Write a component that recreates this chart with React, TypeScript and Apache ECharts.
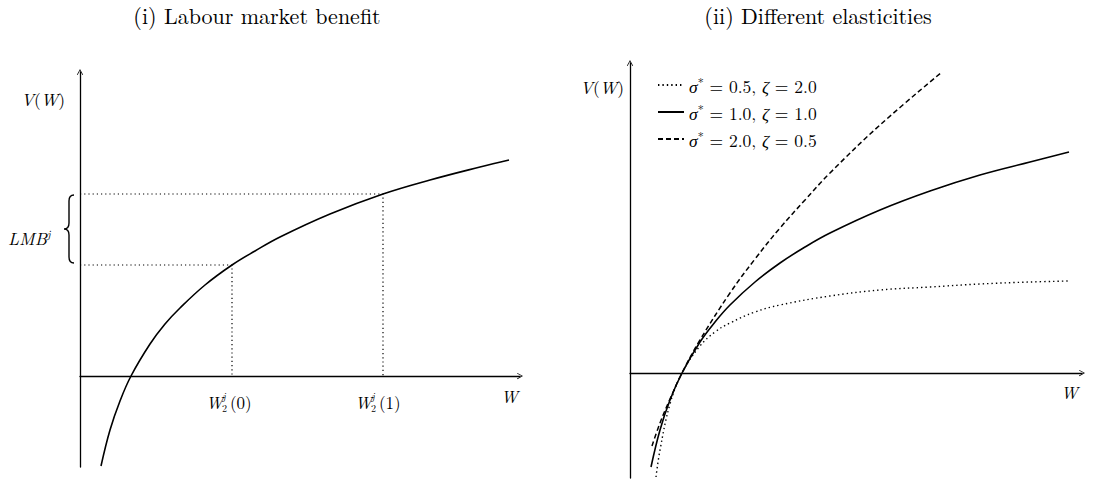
import React, { useEffect, useRef } from "react";
import * as echarts from "echarts";

// ---------- data ----------
const panelTitles = ["(i) Labour market benefit", "(ii) Different elasticities"];

// Panel (i): value function V(W)
const benefitW = [0.21, 0.3, 0.4, 0.51, 0.7, 0.85, 1.0, 1.25, 1.52, 1.75, 2.0, 2.5, 3.03, 3.5, 4.0, 4.29];
const benefitV = [-0.9, -0.54, -0.25, 0, 0.32, 0.52, 0.68, 0.91, 1.11, 1.25, 1.39, 1.62, 1.82, 1.96, 2.09, 2.16];
// W_2^j(0), W_2^j(1) and their values
const wageArgs = ["0", "1"];
const wageLevels = [1.52, 3.03];
const wageValues = [1.11, 1.82];

// Panel (ii): different elasticities
const legendLabels = ["σ* = 0.5, ζ = 2.0", "σ* = 1.0, ζ = 1.0", "σ* = 2.0, ζ = 0.5"];
const sigmaVals = ["0.5", "1.0", "2.0"];
const zetaVals = ["2.0", "1.0", "0.5"];
const lowSigmaW = [0.26, 0.3, 0.4, 0.52, 0.7, 0.85, 1.0, 1.25, 1.5, 2.0, 2.5, 3.0, 3.5, 4.0, 4.39];
const lowSigmaV = [-1.04, -0.77, -0.31, 0, 0.27, 0.41, 0.5, 0.61, 0.68, 0.77, 0.83, 0.86, 0.89, 0.91, 0.92];
const unitSigmaW = [0.21, 0.3, 0.4, 0.52, 0.7, 0.85, 1.0, 1.25, 1.5, 1.75, 2.0, 2.5, 3.0, 3.5, 4.0, 4.39];
const unitSigmaV = [-0.94, -0.57, -0.27, 0, 0.31, 0.51, 0.68, 0.91, 1.1, 1.26, 1.4, 1.63, 1.82, 1.98, 2.11, 2.21];
const highSigmaW = [0.22, 0.3, 0.4, 0.52, 0.7, 1.0, 1.25, 1.5, 1.75, 2.0, 2.5, 3.12];
const highSigmaV = [-0.73, -0.5, -0.26, 0, 0.33, 0.8, 1.14, 1.45, 1.73, 2.0, 2.48, 3.01];

// ---------- style ----------
const SERIF = '"Latin Modern Roman", "Liberation Serif", "DejaVu Serif", serif';
const CHEVRON = "path://M0,9 L5,0 L10,9 L8.9,9.6 L5,2.3 L1.1,9.6 Z";

const zip = (xs: number[], ys: number[]) => xs.map((x, i) => [x, ys[i]]);

function axisPair(grid: number, xmax: number, ymin: number, ymax: number) {
  const line = {
    onZero: true,
    symbol: ["none", CHEVRON],
    symbolSize: [8, 6],
    lineStyle: { color: "#000", width: 1.3 },
  };
  return {
    x: {
      type: "value", gridIndex: grid, min: 0, max: xmax,
      axisLine: line, axisTick: { show: false }, axisLabel: { show: false }, splitLine: { show: false },
    },
    y: {
      type: "value", gridIndex: grid, min: ymin, max: ymax,
      axisLine: line, axisTick: { show: false }, axisLabel: { show: false }, splitLine: { show: false },
    },
  };
}

function txt(x: number, y: number, text: string, size: number, opts: any = {}) {
  return {
    type: "text", x, y, silent: true,
    style: {
      text, fontSize: size, fontFamily: SERIF, fill: "#000",
      align: opts.align || "left", verticalAlign: "middle",
      fontStyle: opts.italic ? "italic" : "normal",
      lineHeight: opts.lineHeight,
      rich: opts.rich,
    },
  };
}

function wLabel(x: number, y: number, arg: string) {
  return {
    type: "group", x, y, silent: true,
    children: [
      txt(0, 0, "W", 17, { italic: true }),
      txt(16.5, -6, "j", 10, { italic: true }),
      txt(16, 6, "2", 10),
      txt(24, 0, `(${arg})`, 17),
    ],
  };
}

const mathRich = {
  i: { fontStyle: "italic", fontFamily: SERIF, fontSize: 17.5 },
  n: { fontFamily: SERIF, fontSize: 17.5 },
  s: { fontFamily: SERIF, fontSize: 12, verticalAlign: "top" },
};

echarts.graphic.registerShape(
  "brace",
  echarts.graphic.extendPath(
    "M10,0 C6,0 5,2 5,6 L5,28 C5,32 3,34 0,34 C3,34 5,36 5,40 L5,62 C5,66 6,68 10,68",
    {}
  )
);

export default function App() {
  const ref = useRef<HTMLDivElement>(null);
  useEffect(() => {
    document.body.style.margin = "0";
    if (!ref.current) return;
    const chart = echarts.init(ref.current, undefined, { renderer: "svg" });
    const a0 = axisPair(0, 4.4, -0.91, 3.04);
    const a1 = axisPair(1, 4.52, -1.05, 3.1);

    const guideSeries = wageLevels.map((w, i) => ({
      type: "line", name: `guide${i}`, xAxisIndex: 0, yAxisIndex: 0,
      data: [[0, wageValues[i]], [w, wageValues[i]], [w, 0]],
      symbol: "none", silent: true,
      lineStyle: { color: "#000", width: 1.2, type: [1.2, 3] },
    }));

    const rightDefs = [
      { w: lowSigmaW, v: lowSigmaV, type: [1.4, 3] as any, width: 1.4 },
      { w: unitSigmaW, v: unitSigmaV, type: "solid" as any, width: 1.6 },
      { w: highSigmaW, v: highSigmaV, type: [5, 3] as any, width: 1.5 },
    ];
    const rightSeries = rightDefs.map((d, i) => ({
      type: "line", name: legendLabels[i], xAxisIndex: 1, yAxisIndex: 1,
      data: zip(d.w, d.v), symbol: "none", smooth: 0.4,
      lineStyle: { color: "#000", width: d.width, type: d.type },
      itemStyle: { color: "#000" },
    }));

    chart.setOption({
      animation: false,
      backgroundColor: "#fff",
      grid: [
        { left: 80, top: 72, width: 440, height: 395 },
        { left: 630, top: 63, width: 452, height: 415 },
      ],
      xAxis: [a0.x, a1.x],
      yAxis: [a0.y, a1.y],
      legend: {
        data: legendLabels,
        orient: "vertical",
        left: 652, top: 70,
        itemWidth: 26, itemHeight: 14, itemGap: 7,
        itemStyle: { opacity: 0 },
        formatter: (name: string) => {
          const i = legendLabels.indexOf(name);
          return `{i|σ}{s|*}{n| = ${sigmaVals[i]}, }{i|ζ}{n| = ${zetaVals[i]}}`;
        },
        textStyle: { fontFamily: SERIF, fontSize: 17.5, color: "#000", lineHeight: 20, rich: mathRich },
      },
      series: [
        {
          type: "line", name: "benefit", xAxisIndex: 0, yAxisIndex: 0,
          data: zip(benefitW, benefitV), symbol: "none", smooth: 0.4,
          lineStyle: { color: "#000", width: 1.6 },
        },
        ...guideSeries,
        ...rightSeries,
      ],
      graphic: [
        txt(257, 14, panelTitles[0], 22, { align: "center" }),
        txt(818, 14, panelTitles[1], 22, { align: "center" }),
        txt(21, 98, "{i|V}{n|(}{i|W}{n|)}", 17, { rich: mathRich }),
        txt(580, 86, "{i|V}{n|(}{i|W}{n|)}", 17, { rich: mathRich }),
        txt(8, 237, "{i|LMB}{j|j}", 17, {
          rich: { ...mathRich, j: { fontStyle: "italic", fontFamily: SERIF, fontSize: 11, verticalAlign: "top" } },
        }),
        { type: "brace", x: 64, y: 195, silent: true, style: { stroke: "#000", fill: "none", lineWidth: 1.4 } },
        ...wageLevels.map((_, i) => wLabel(i === 0 ? 206 : 355, 402, wageArgs[i])),
        txt(501, 396, "W", 17, { italic: true }),
        txt(1061, 392, "W", 17, { italic: true }),
      ],
    });
    return () => chart.dispose();
  }, []);
  return <div ref={ref} style={{ width: 1098, height: 479 }} />;
}
